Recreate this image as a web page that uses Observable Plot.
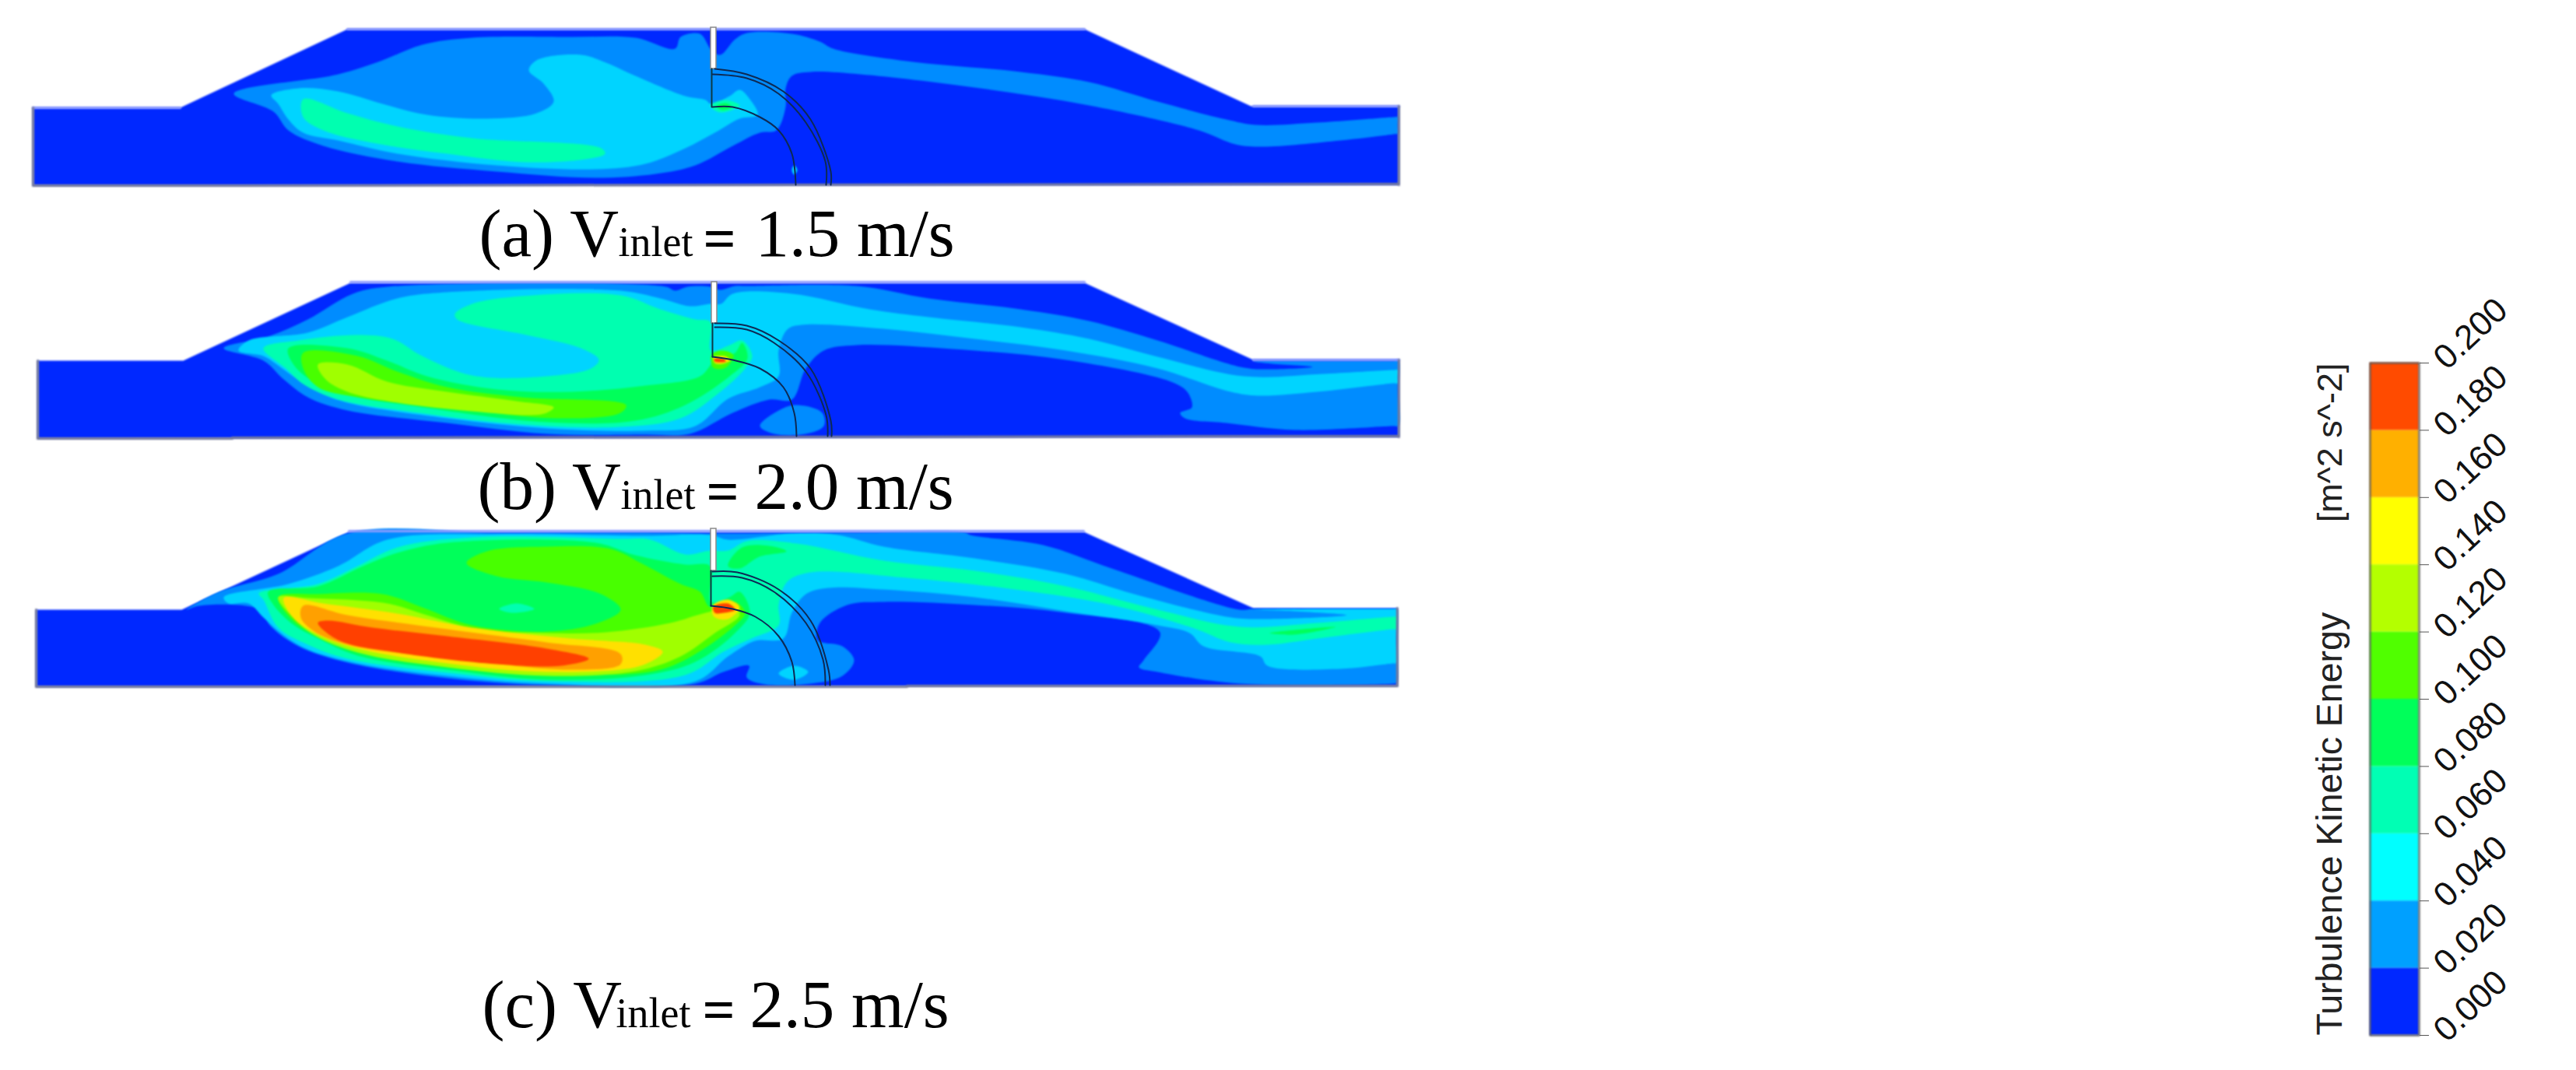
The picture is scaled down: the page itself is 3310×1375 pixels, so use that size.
<!DOCTYPE html>
<html><head><meta charset="utf-8">
<script src="https://cdn.jsdelivr.net/npm/d3@7"></script>
<script src="https://cdn.jsdelivr.net/npm/@observablehq/plot@0.6"></script>
<style>html,body{margin:0;background:#fff}#wrap{position:relative;width:3310px;height:1375px}#wrap svg{position:absolute;overflow:visible}</style>
</head><body><div id="wrap"></div>
<script>
// Colour levels (turbulence kinetic energy, m^2 s^-2)
const bandEdges = [0,0.02,0.04,0.06,0.08,0.10,0.12,0.14,0.16,0.18,0.20];
const legendColors = ["#0028ff","#00a0ff","#00ffff","#00ffb4","#00ff5a","#50ff00","#b4ff00","#ffff00","#ffb000","#ff4b00"];
const fieldColors = ["#0028ff","#008cff","#00d4ff","#00ffb0","#00ff5a","#48ff00","#a0ff00","#ffe000","#ffa000","#ff4000"];

// Flume outlines
const flumeA = [[42,138],[231,138],[446,37],[1393,37],[1607,136],[1797,136],[1797,237],[42,238]];
const flumeB = [[48,463],[235,463],[450,363],[1393,363],[1610,462],[1797,462],[1797,561],[48,563]];
const flumeC = [[46,783],[233,783],[448,683],[1392,683],[1610,781],[1795,781],[1795,881],[46,882]];

// Panel (a) contours
const a03 = [[300,120],[434,95],[491,77],[542,57],[606,48],[733,47],[816,48],[867,62],[874,47],[899,43],[913,63],[925,70],[944,50],[959,42],[1017,43],[1053,53],[1070,62],[1164,78],[1311,92],[1399,105],[1487,130],[1575,153],[1613,160],[1692,157],[1790,150],[1796,150],[1796,160],[1796,171],[1790,172],[1722,180],[1622,188],[1587,185],[1540,167],[1399,135],[1252,112],[1105,95],[1041,92],[1017,97],[1009,113],[1009,137],[997,167],[976,170],[941,187],[893,212],[842,223],[765,228],[638,220],[510,207],[415,187],[370,167],[351,143]];
const a05 = [[348,122],[383,113],[434,117],[491,133],[548,147],[625,152],[689,145],[711,130],[698,107],[679,90],[689,77],[746,70],[778,80],[816,97],[880,123],[906,128],[913,133],[937,123],[950,115],[963,127],[973,147],[950,152],[918,170],[880,190],[829,210],[765,217],[638,212],[510,197],[434,180],[389,170],[370,153],[357,133]];
const a07 = [[389,127],[446,145],[510,162],[606,177],[772,190],[777,197],[759,203],[676,208],[574,197],[478,183],[415,167],[389,150]];
const a07b = [[912,135],[931,128],[950,135],[925,144]];
const a09 = [[920,136],[932,132],[940,137],[928,141]];
const a05b = [[1017,218],[1020,212],[1024,218],[1020,224]];

// Panel (b) contours
const b03 = [[287,447],[344,432],[395,410],[453,377],[497,368],[855,368],[867,373],[883,368],[912,368],[925,372],[944,367],[959,367],[1100,367],[1193,383],[1311,397],[1399,412],[1487,437],[1598,472],[1634,474],[1686,471],[1634,467],[1610,464],[1700,463],[1790,463],[1796,463],[1796,500],[1796,547],[1790,547],[1663,552],[1575,543],[1522,537],[1516,530],[1531,523],[1525,503],[1504,490],[1369,462],[1223,448],[1100,443],[1058,450],[1035,473],[1017,513],[988,513],[941,530],[886,557],[829,558],[702,557],[574,543],[446,527],[395,510],[364,487],[338,463]];
const b03b = [[976,547],[1000,527],[1023,520],[1056,530],[1058,547],[1035,557],[994,557]];
const b05 = [[319,437],[395,427],[446,407],[510,383],[574,375],[797,373],[848,383],[886,393],[912,390],[926,390],[941,377],[1017,377],[1117,397],[1193,407],[1311,420],[1399,435],[1487,458],[1598,483],[1700,480],[1790,475],[1796,475],[1796,484],[1796,492],[1790,492],[1692,503],[1616,508],[1581,503],[1487,473],[1369,450],[1252,435],[1135,422],[1029,417],[1011,423],[1000,450],[1000,483],[976,497],[935,512],[893,547],[829,553],[702,550],[574,537],[446,517],[408,503],[376,483],[354,467],[338,457],[306,450]];
const b07 = [[584,403],[606,390],[670,380],[797,379],[848,397],[893,410],[912,413],[913,450],[937,443],[953,437],[966,457],[957,473],[925,503],[874,537],[797,548],[670,545],[523,528],[434,513],[389,493],[367,473],[338,447],[383,437],[459,430],[504,435],[542,457],[606,482],[702,483],[759,473],[769,462],[746,447],[676,430],[587,410]];
const b09 = [[370,447],[446,447],[497,463],[548,483],[638,500],[733,503],[829,495],[899,483],[918,463],[944,453],[953,440],[960,460],[937,483],[880,520],[816,540],[702,542],[542,523],[446,507],[402,490],[376,467]];
const b11 = [[389,453],[459,457],[510,477],[574,497],[670,510],[804,520],[797,530],[714,537],[574,523],[459,510],[408,497],[389,473]];
const b13 = [[408,468],[446,468],[497,490],[574,503],[663,515],[711,523],[702,530],[682,533],[606,528],[510,517],[446,503],[418,487]];
const b11b = [[914,455],[928,450],[942,456],[932,472],[916,472]];
const b15 = [[916,459],[930,457],[938,462],[928,467],[918,466]];
const b19 = [[917,461],[930,461],[932,464],[918,464]];

// Panel (c) contours
const c03 = [[239,783],[281,760],[357,737],[446,685],[640,684],[848,684],[912,685],[959,685],[1100,684],[1240,684],[1246,687],[1340,700],[1428,730],[1592,783],[1610,782],[1700,782],[1790,782],[1794,782],[1794,830],[1794,877],[1790,878],[1592,878],[1487,863],[1463,857],[1469,848],[1490,812],[1369,787],[1252,777],[1135,773],[1088,777],[1053,800],[1050,822],[1082,830],[1097,848],[1082,868],[1041,878],[982,879],[959,870],[962,855],[929,863],[893,878],[702,880],[574,871],[446,851],[383,830],[348,805],[332,783],[306,777],[255,778]];
const c05 = [[287,767],[370,750],[434,727],[497,693],[638,686],[829,688],[912,687],[935,693],[1017,685],[1076,687],[1135,702],[1252,717],[1369,737],[1457,763],[1575,792],[1610,795],[1730,790],[1663,785],[1612,783],[1700,782],[1790,782],[1794,782],[1794,820],[1794,852],[1790,852],[1722,859],[1628,855],[1619,843],[1546,830],[1528,813],[1487,803],[1369,785],[1252,767],[1135,757],[1064,755],[1035,763],[1017,787],[1006,820],[970,823],[935,843],[893,875],[702,878],[574,868],[459,852],[395,834],[364,816],[338,793],[319,775],[293,775]];
const c05b = [[1000,865],[1020,855],[1038,863],[1020,873]];
const c05c = [[874,687],[890,692],[892,703],[880,705],[872,697]];
const c07 = [[332,762],[408,750],[459,727],[510,703],[606,690],[797,692],[835,693],[880,712],[912,707],[935,707],[959,695],[1023,698],[1135,720],[1252,733],[1369,753],[1487,783],[1592,805],[1692,800],[1790,792],[1794,792],[1794,800],[1794,808],[1790,808],[1692,820],[1628,828],[1581,825],[1534,807],[1428,777],[1311,758],[1164,742],[1041,735],[1011,747],[1000,777],[1000,803],[965,820],[929,837],[880,867],[702,875],[574,864],[446,846],[395,828],[357,806],[338,770]];
const c09 = [[344,760],[408,753],[466,727],[510,710],[574,697],[765,697],[816,713],[880,725],[912,727],[913,773],[937,767],[950,760],[963,787],[944,813],[893,850],[829,867],[702,873],[574,860],[459,842],[408,820],[376,802],[351,777]];
const c09b = [[935,727],[953,703],[994,702],[1010,708],[975,715],[950,730]];
const c09c = [[1631,813],[1716,805],[1663,815]];
const c07b = [[641,782],[663,775],[686,782],[657,787]];
const c11 = [[599,723],[625,708],[702,702],[784,705],[823,723],[874,750],[899,760],[912,780],[944,773],[957,787],[944,803],[893,840],[848,860],[765,867],[638,860],[497,842],[434,825],[383,803],[357,767],[408,763],[491,763],[542,780],[606,803],[702,811],[765,801],[797,783],[772,763],[702,748],[638,740]];
const c13 = [[357,767],[395,768],[497,775],[548,790],[612,808],[702,813],[778,812],[861,800],[906,787],[944,780],[950,790],[918,813],[874,843],[816,862],[702,868],[574,857],[459,838],[402,815],[376,793]];
const c15 = [[364,768],[415,775],[510,788],[606,806],[733,820],[829,828],[851,837],[823,855],[702,863],[574,852],[459,833],[408,815],[376,793]];
const c17 = [[389,778],[446,790],[574,808],[702,825],[797,840],[797,853],[733,860],[574,845],[446,828],[402,810],[386,793]];
const c19 = [[408,800],[420,797],[478,806],[574,817],[702,833],[756,846],[721,855],[638,853],[510,838],[434,822]];
const c15b = [[915,778],[935,770],[950,780],[935,795],[917,792]];
const c19b = [[916,779],[935,775],[944,783],[930,787],[918,787]];

const contourSets = [
  [0.03,a03],[0.05,a05],[0.07,a07],[0.07,a07b],[0.09,a09],[0.05,a05b],
  [0.03,b03],[0.03,b03b],[0.05,b05],[0.07,b07],[0.09,b09],[0.11,b11],[0.13,b13],[0.11,b11b],[0.15,b15],[0.19,b19],
  [0.03,c03],[0.05,c05],[0.05,c05b],[0.07,c07],[0.05,c05c],[0.09,c09],[0.09,c09b],[0.09,c09c],[0.11,c11],[0.07,c07b],[0.13,c13],[0.15,c15],[0.17,c17],[0.19,c19],[0.15,c15b],[0.19,c19b]
];

// Gate stems: [x1, x2, y1, y2]
const stems = [[913,920,35,88],[914,921,362,415],[913,920,679,733]];
// Vane lines
const vaneCurves = [
  [[918,88],[959,95],[1006,117],[1041,153],[1067,220],[1067,237]],
  [[915,95],[959,100],[1000,120],[1035,157],[1060,207],[1061,237]],
  [[915,137],[941,137],[976,150],[1000,167],[1017,197],[1022,237]],
  [[918,415],[959,418],[1000,437],[1041,473],[1067,540],[1068,560]],
  [[918,420],[959,423],[994,440],[1035,477],[1061,533],[1063,560]],
  [[915,458],[941,462],[976,473],[1006,497],[1020,530],[1023,560]],
  [[915,734],[947,735],[1000,757],[1041,797],[1064,860],[1066,880]],
  [[915,740],[953,742],[994,760],[1035,800],[1057,847],[1060,880]],
  [[913,778],[941,782],[970,792],[1000,817],[1017,850],[1021,880]]
];
const vaneStraights = [
  [[914,88],[914,137]],[[915,415],[915,458]],[[913,733],[913,778]]
];
// Edges of the flumes
const topEdges = [[[446,37],[1393,37]],[[450,362],[1393,362]],[[448,682],[1392,682]],[[1610,136],[1797,136]],[[42,138],[231,138]],[[1610,462],[1797,462]]];
const bottomEdges = [[[42,238],[293,238]],[[293,238],[1797,236]],[[48,563],[298,563]],[[298,562],[1797,560]],[[46,882],[295,882]],[[295,882],[1165,882]],[[1165,881],[1795,881]],[[42,138],[42,238]],[[48,463],[48,563]],[[46,783],[46,882]],[[1797,136],[1797,237]],[[1797,462],[1797,561]],[[1795,781],[1795,881]]];

// Captions
const captionTexts = ["(a) V","inlet","1.5 m/s","(b) V","inlet","2.0 m/s","(c) V","inlet","2.5 m/s"];
const captionX = [615,794,970, 613,797,969, 619,791,963];
const captionY = [328,328,328, 653,653,653, 1319,1319,1319];
const captionSize = [87,54,87, 87,54,87, 87,54,87];
const equalsX = [903,907,902];
const equalsY = [331,656,1322];

// Legend text
const legendTicks = bandEdges;
const legendTitle = "Turbulence Kinetic Energy";
const legendUnit = "[m^2 s^-2]";

const toRows = (sets) => sets.flatMap(([level, pts], i) => pts.map(([x,y]) => ({id:i, level, x, y})));
const pathRows = (lines) => lines.flatMap((pts, i) => pts.map(([x,y]) => ({id:i, x, y})));
const contourRows = toRows(contourSets);
const captions = captionTexts.map((t,i) => ({t, x:captionX[i], y:captionY[i], s:captionSize[i]}));
const equalsSigns = equalsX.map((x,i) => ({t:"=", x, y:equalsY[i]}));
const thresholds = bandEdges.slice(1,-1);
const soft = "blur(0.9px)";

const field = Plot.plot({
  width:3310, height:1375, margin:0,
  style:{background:"transparent"},
  x:{domain:[0,3310], axis:null},
  y:{domain:[1375,0], axis:null},
  color:{type:"threshold", domain:thresholds, range:fieldColors},
  marks:[
    Plot.line(pathRows([flumeA,flumeB,flumeC]), {x:"x",y:"y",z:"id",fill:fieldColors[0],stroke:"none",curve:"linear-closed",imageFilter:soft}),
    Plot.line(contourRows, {x:"x",y:"y",z:"id",fill:"level",stroke:"none",curve:"catmull-rom-closed",imageFilter:soft}),
    Plot.line(pathRows(topEdges), {x:"x",y:"y",z:"id",stroke:"#8f9cff",strokeWidth:3,imageFilter:soft}),
    Plot.line(pathRows(bottomEdges), {x:"x",y:"y",z:"id",stroke:"#777b96",strokeWidth:3,imageFilter:soft}),
    Plot.rect(stems, {x1:d=>d[0],x2:d=>d[1],y1:d=>d[2],y2:d=>d[3],fill:"#fff",stroke:"#8a8a8a",strokeWidth:1.5}),
    Plot.line(pathRows(vaneStraights), {x:"x",y:"y",z:"id",stroke:"#0d3a44",strokeWidth:2}),
    Plot.line(pathRows(vaneCurves), {x:"x",y:"y",z:"id",stroke:"#0d2a55",strokeWidth:2,curve:"catmull-rom"}),
    Plot.text(captions, {x:"x",y:"y",text:"t",fontSize:"s",textAnchor:"start",lineAnchor:"bottom",fontFamily:"Liberation Serif",fill:"#000"}),
    Plot.text(equalsSigns, {x:"x",y:"y",text:"t",fontSize:74,fontWeight:"bold",textAnchor:"start",lineAnchor:"bottom",fontFamily:"Liberation Serif",fill:"#000"})
  ]
});

const bands = legendColors.map((c,i)=>({y1:bandEdges[i],y2:bandEdges[i+1],c}));
const legend = Plot.plot({
  width:370, height:930, marginLeft:105, marginRight:202, marginTop:46, marginBottom:20,
  style:{background:"transparent",fontFamily:"Liberation Sans"},
  x:{axis:null},
  y:{domain:[0,0.2], axis:null},
  marks:[
    Plot.rect(bands,{y1:"y1",y2:"y2",fill:{value:"c",scale:null},imageFilter:soft}),
    Plot.frame({stroke:"#555",strokeWidth:2,imageFilter:soft}),
    Plot.axisY({anchor:"right",ticks:legendTicks,tickFormat:".3f",tickSize:12,tickPadding:14,tickRotate:-43,fontSize:44,fontWeight:500,label:null,stroke:"#555",fill:"#111"}),
    Plot.text([legendTitle],{frameAnchor:"bottom-left",dx:-37,dy:0,rotate:-90,textAnchor:"start",lineAnchor:"bottom",fontSize:46.5,fill:"#222"}),
    Plot.text([legendUnit],{frameAnchor:"top-left",dx:-37,dy:0,rotate:-90,textAnchor:"end",lineAnchor:"bottom",fontSize:45,fill:"#222"})
  ]
});
legend.style.left="2940px"; legend.style.top="420px";
const wrap=document.getElementById("wrap");
wrap.append(field, legend);
</script></body></html>
